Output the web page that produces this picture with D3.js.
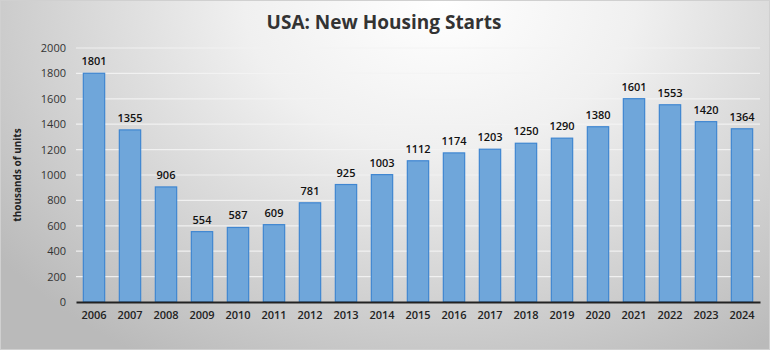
<!DOCTYPE html>
<html><head><meta charset="utf-8">
<script src="https://cdn.jsdelivr.net/npm/d3@7"></script>
<style>body{margin:0;padding:0;overflow:hidden}svg{display:block}</style>
</head><body>
<script>
const years = ["2006","2007","2008","2009","2010","2011","2012","2013","2014","2015","2016","2017","2018","2019","2020","2021","2022","2023","2024"];
const starts = [1801,1355,906,554,587,609,781,925,1003,1112,1174,1203,1250,1290,1380,1601,1553,1420,1364];
const yTicks = [0,200,400,600,800,1000,1200,1400,1600,1800,2000];
const titleText = "USA: New Housing Starts";
const yTitle = "thousands of units";

const W = 770, H = 350;
const font = "'Open Sans', 'DejaVu Sans', sans-serif";
const svg = d3.select("body").append("svg").attr("width", W).attr("height", H);
const defs = svg.append("defs");
const rg = defs.append("radialGradient").attr("id","bg")
  .attr("gradientUnits","userSpaceOnUse").attr("cx",440).attr("cy",0).attr("r",560)
  .attr("gradientTransform","translate(440,0) scale(1,0.75) translate(-440,0)");
rg.append("stop").attr("offset","0").attr("stop-color","#ffffff");
rg.append("stop").attr("offset","0.35").attr("stop-color","#f0f0f0");
rg.append("stop").attr("offset","1").attr("stop-color","#bababa");
svg.append("rect").attr("x",0.5).attr("y",0.5).attr("width",W-1).attr("height",H-1)
  .attr("fill","url(#bg)").attr("stroke","#d0d0d0");

const m = {left:76, right:10, top:48, bottom:48};
const x = d3.scaleBand().domain(years).range([m.left, W-m.right]).paddingInner(0.38).paddingOuter(0.19);
const y = d3.scaleLinear().domain([0,2000]).range([H-m.bottom, m.top]);

svg.append("g").selectAll("line").data(yTicks.filter(d=>d>0)).join("line")
  .attr("x1", m.left).attr("x2", W-m.right)
  .attr("y1", d=>y(d)).attr("y2", d=>y(d))
  .attr("stroke","#f4f4f4").attr("stroke-width",1.2).attr("opacity",0.9);

const ya = svg.append("g").attr("transform",`translate(${m.left},0)`)
  .call(d3.axisLeft(y).tickValues(yTicks).tickFormat(d3.format("d")).tickSize(0).tickPadding(10));
ya.select(".domain").remove();
ya.selectAll("text").attr("font-family",font).attr("font-size",11).attr("fill","#333");

svg.append("g").selectAll("rect").data(starts).join("rect")
  .attr("x",(d,i)=>x(years[i])+0.5).attr("width",x.bandwidth()-1)
  .attr("y",d=>y(d)).attr("height",d=>y(0)-y(d))
  .attr("fill","#6fa6da").attr("stroke","#3f86d1").attr("stroke-width",1.2);

svg.append("g").selectAll("text").data(starts).join("text")
  .attr("x",(d,i)=>x(years[i])+x.bandwidth()/2).attr("y",d=>y(d)-8)
  .attr("text-anchor","middle").attr("font-family",font).attr("font-size",11).attr("font-weight","600")
  .attr("fill","#111").text(d=>d);

const xa = svg.append("g").attr("transform",`translate(0,${y(0)})`)
  .call(d3.axisBottom(x).tickSize(0).tickPadding(9));
xa.select(".domain").attr("stroke","#222").attr("stroke-width",2);
xa.selectAll("text").attr("font-family",font).attr("font-size",11).attr("font-weight","600").attr("fill","#222");

svg.append("text").attr("x",384).attr("y",29).attr("text-anchor","middle")
  .attr("font-family",font).attr("font-size",19).attr("font-weight","700").attr("fill","#333").text(titleText);

svg.append("text").attr("transform",`translate(21,175) rotate(-90)`).attr("text-anchor","middle")
  .attr("font-family",font).attr("font-size",10).attr("font-weight","700").attr("fill","#222").text(yTitle);
</script>
</body></html>
